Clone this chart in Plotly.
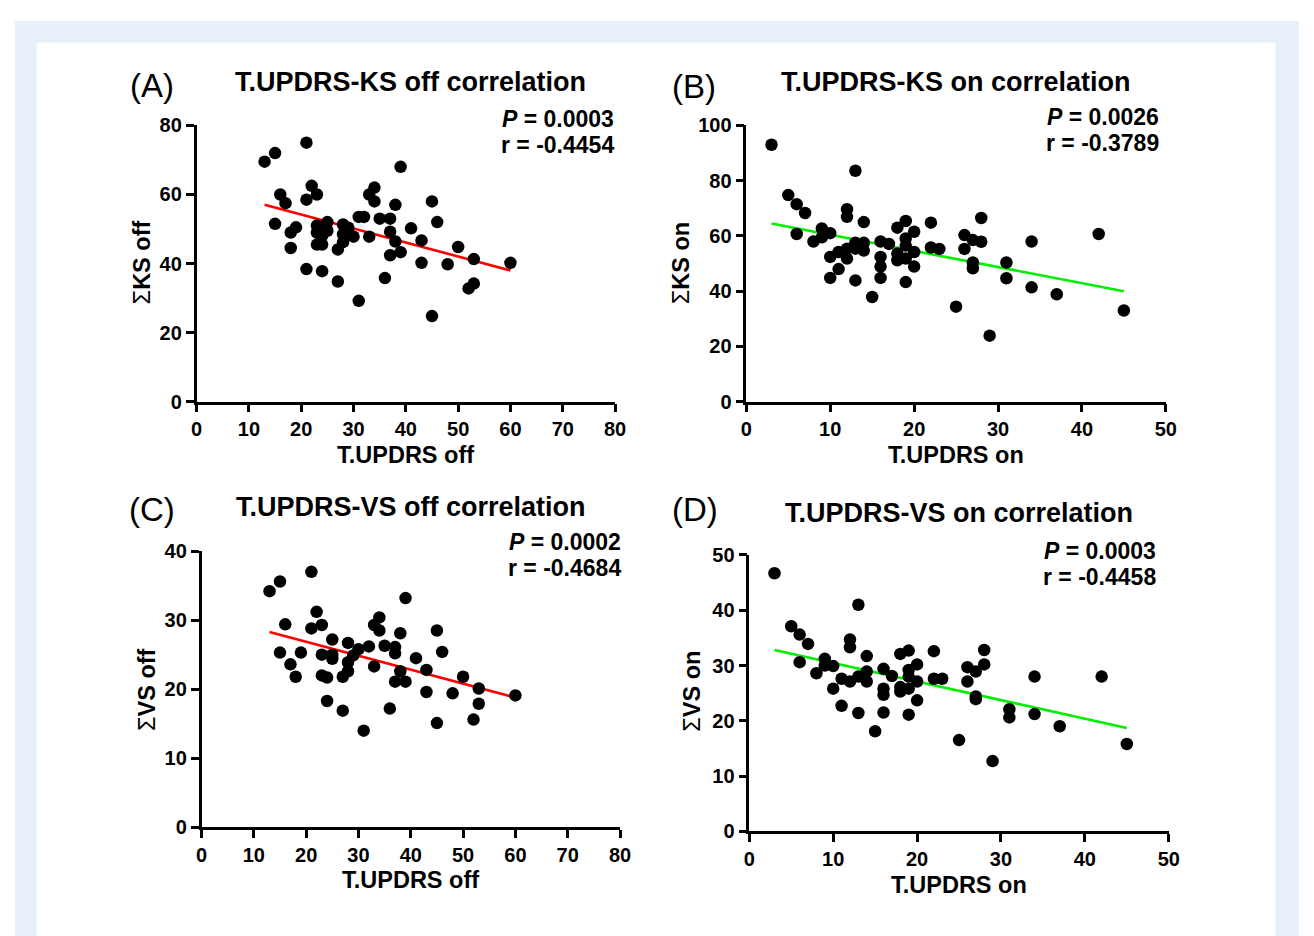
import plotly.graph_objects as go

# page size and default body margin of the browser page
PAGE_W, PAGE_H = 1314, 936
BODY = 8
W, H = PAGE_W - BODY, PAGE_H - BODY

# ---------------- data ----------------
a_x = [13,15,21,39,22,23,16,17,21,34,33,34,38,45,46,15,18,19,18,31,32,35,37,23,25,23,25,24,23,24,
       28,29,28,30,28,27,29,33,37,41,38,43,37,39,50,53,60,43,48,21,24,27,36,52,53,31,45]
a_y = [69.5,72,75,68,62.5,60,60,57.5,58.5,62,60,58,57,58,52,51.5,49,50.5,44.5,53.5,53.5,53,53,51,52,49,49.5,48,45.5,45.5,
       51.3,50.4,48.5,47.8,46.2,44.1,49,47.8,49.2,50.2,46.4,46.7,42.4,43.3,44.8,41.3,40.2,40.2,39.8,38.4,37.8,34.8,35.8,32.8,34.2,29.2,24.8]
a_fit_x = [13, 60]
a_fit_y = [57, 38]

b_x = [3,13,5,6,7,6,8,9,9,10,10,10,11,11,12,12,12,12,13,13,14,14,14,13,15,16,17,16,16,16,
       18,19,19,19,20,18,18,19,20,20,19,22,22,23,25,26,26,27,28,28,27,27,29,31,31,34,34,37,42,45]
b_y = [93,83.6,74.8,71.5,68.3,60.7,58,62.7,59.5,61,52.4,44.8,48,54.2,69.7,66.9,55.4,51.8,57.5,55.4,65,57.5,54.7,43.9,37.9,58,57.1,52.4,48.9,44.8,
       63,65.4,59.1,56.5,61.5,53.6,51.2,51.8,54.2,48.9,43.3,64.8,55.8,55.3,34.4,60.3,55.3,58.5,66.5,57.9,50.4,48.3,23.9,50.4,44.7,58,41.4,38.9,60.7,33]
b_fit_x = [3, 45]
b_fit_y = [64.5, 40]

c_x = [13,15,21,39,22,16,21,23,34,33,34,38,45,46,15,19,17,18,25,28,23,25,25,23,24,27,28,28,29,30,
       32,35,37,37,33,41,38,43,37,39,50,53,60,43,48,53,24,27,36,45,52,31]
c_y = [34.2,35.6,37,33.2,31.2,29.4,28.8,29.3,30.4,29.3,28.5,28.1,28.5,25.4,25.3,25.3,23.6,21.8,27.2,26.7,25,25,24.4,22,21.7,21.8,22.6,23.9,24.9,25.8,
       26.2,26.3,26.1,25.2,23.3,24.5,22.6,22.8,21.1,21.1,21.8,20.1,19.1,19.6,19.4,17.9,18.3,16.9,17.2,15.1,15.6,14]
c_fit_x = [13, 60]
c_fit_y = [28.3, 18.8]

d_x = [3,13,5,6,7,6,8,9,9,10,10,11,11,12,13,14,14,12,12,14,13,15,16,17,16,16,16,18,19,20,
       19,19,20,19,18,18,20,19,22,22,23,25,26,26,27,28,28,27,27,29,31,31,34,34,37,42,45]
d_y = [46.7,41,37.1,35.6,33.9,30.6,28.6,31.2,30,29.9,25.8,22.7,27.6,27.1,28,28.9,27.1,34.7,33.3,31.7,21.4,18.1,29.4,28.1,25.8,24.7,21.5,32.1,32.7,30.2,
       29.2,28,27.1,25.8,25.3,26.1,23.7,21.1,32.6,27.6,27.6,16.5,29.7,27.1,28.9,32.8,30.2,24.4,23.9,12.7,22.1,20.6,28,21.2,19,28,15.8]
d_fit_x = [3, 45]
d_fit_y = [32.8, 18.7]

panels = [
    dict(x=a_x, y=a_y, fx=a_fit_x, fy=a_fit_y, color="#ff0000",
         xr=[0, 80], xd=10, yr=[0, 80], yd=20, px=(193, 617), py=(400, 117),
         letter="(A)", title="T.UPDRS-KS off correlation", xt="T.UPDRS off", yt="KS off",
         p="0.0003", r="-0.4454", lpos=(148, 76), tpos=(410, 73), ppos=(559, 110, 137),
         xtpos=(405, 455), ytpos=(138, 257)),
    dict(x=b_x, y=b_y, fx=b_fit_x, fy=b_fit_y, color="#00ee00",
         xr=[0, 50], xd=10, yr=[0, 100], yd=20, px=(750, 1175), py=(400, 117),
         letter="(B)", title="T.UPDRS-KS on correlation", xt="T.UPDRS on", yt="KS on",
         p="0.0026", r="-0.3789", lpos=(697, 77), tpos=(962, 73), ppos=(1111, 108, 135),
         xtpos=(962, 455), ytpos=(684, 258)),
    dict(x=c_x, y=c_y, fx=c_fit_x, fy=c_fit_y, color="#ff0000",
         xr=[0, 80], xd=10, yr=[0, 40], yd=10, px=(198, 622), py=(836, 553),
         letter="(C)", title="T.UPDRS-VS off correlation", xt="T.UPDRS off", yt="VS off",
         p="0.0002", r="-0.4684", lpos=(148, 510), tpos=(410, 508), ppos=(566, 544, 570),
         xtpos=(410, 890), ytpos=(142, 695)),
    dict(x=d_x, y=d_y, fx=d_fit_x, fy=d_fit_y, color="#00ee00",
         xr=[0, 50], xd=10, yr=[0, 50], yd=10, px=(753, 1178), py=(840, 557),
         letter="(D)", title="T.UPDRS-VS on correlation", xt="T.UPDRS on", yt="VS on",
         p="0.0003", r="-0.4458", lpos=(698, 510), tpos=(965, 514), ppos=(1108, 553, 580),
         xtpos=(965, 895), ytpos=(695, 697)),
]

FONT = "Arial, Liberation Sans, Helvetica, sans-serif"


def fx(px):
    return (px - BODY) / W


def fy(py):
    return 1 - (py - BODY) / H


fig = go.Figure()
layout = dict(
    width=W, height=H, margin=dict(l=0, r=0, t=0, b=0),
    paper_bgcolor="white", plot_bgcolor="rgba(0,0,0,0)",
    showlegend=False, font=dict(family=FONT, color="black"),
)
annotations = []
shapes = [
    dict(type="rect", xref="paper", yref="paper", x0=fx(9), x1=fx(1310), y0=-0.05, y1=fy(10),
         fillcolor="#e8f1fa", line=dict(width=0), layer="below"),
    dict(type="rect", xref="paper", yref="paper", x0=fx(31), x1=fx(1286), y0=-0.05, y1=fy(32),
         fillcolor="white", line=dict(width=0), layer="below"),
]

for i, p in enumerate(panels, start=1):
    xa = "xaxis" if i == 1 else f"xaxis{i}"
    ya = "yaxis" if i == 1 else f"yaxis{i}"
    xref = "x" if i == 1 else f"x{i}"
    yref = "y" if i == 1 else f"y{i}"
    fig.add_trace(go.Scatter(x=p["fx"], y=p["fy"], mode="lines", xaxis=xref, yaxis=yref,
                             line=dict(color=p["color"], width=2.6), hoverinfo="skip"))
    fig.add_trace(go.Scatter(x=p["x"], y=p["y"], mode="markers", xaxis=xref, yaxis=yref,
                             marker=dict(color="black", size=12.5, line=dict(width=0)),
                             cliponaxis=False))
    axis_common = dict(showgrid=False, zeroline=False, showline=True, linecolor="black",
                       linewidth=2.5, ticks="outside", ticklen=8, tickwidth=2.5, tickcolor="black",
                       tickfont=dict(family=FONT, size=20, color="black", weight="bold"),
                       fixedrange=True)
    layout[xa] = dict(axis_common, range=p["xr"], dtick=p["xd"], tick0=0,
                      domain=[fx(p["px"][0]), fx(p["px"][1])], anchor=yref)
    layout[ya] = dict(axis_common, range=p["yr"], dtick=p["yd"], tick0=0,
                      domain=[fy(p["py"][0]), fy(p["py"][1])], anchor=xref)

    def ann(text, x, y, size, angle=0):
        annotations.append(dict(text=text, x=fx(x), y=fy(y), xref="paper", yref="paper",
                                showarrow=False, xanchor="center", yanchor="middle",
                                textangle=angle, font=dict(family=FONT, size=size, color="black")))

    ann(p["letter"], *p["lpos"], 33)
    ann(f"<b>{p['title']}</b>", *p["tpos"], 27)
    ann(f"<b><i>P</i> = {p['p']}</b>", p["ppos"][0], p["ppos"][1], 23)
    ann(f"<b>r = {p['r']}</b>", p["ppos"][0], p["ppos"][2], 23)
    ann(f"<b>{p['xt']}</b>", *p["xtpos"], 23.5)
    ann(f"Σ<b>{p['yt']}</b>", *p["ytpos"], 23.5, angle=-90)

layout["annotations"] = annotations
layout["shapes"] = shapes
fig.update_layout(**layout)
fig.write_html("out.html")
